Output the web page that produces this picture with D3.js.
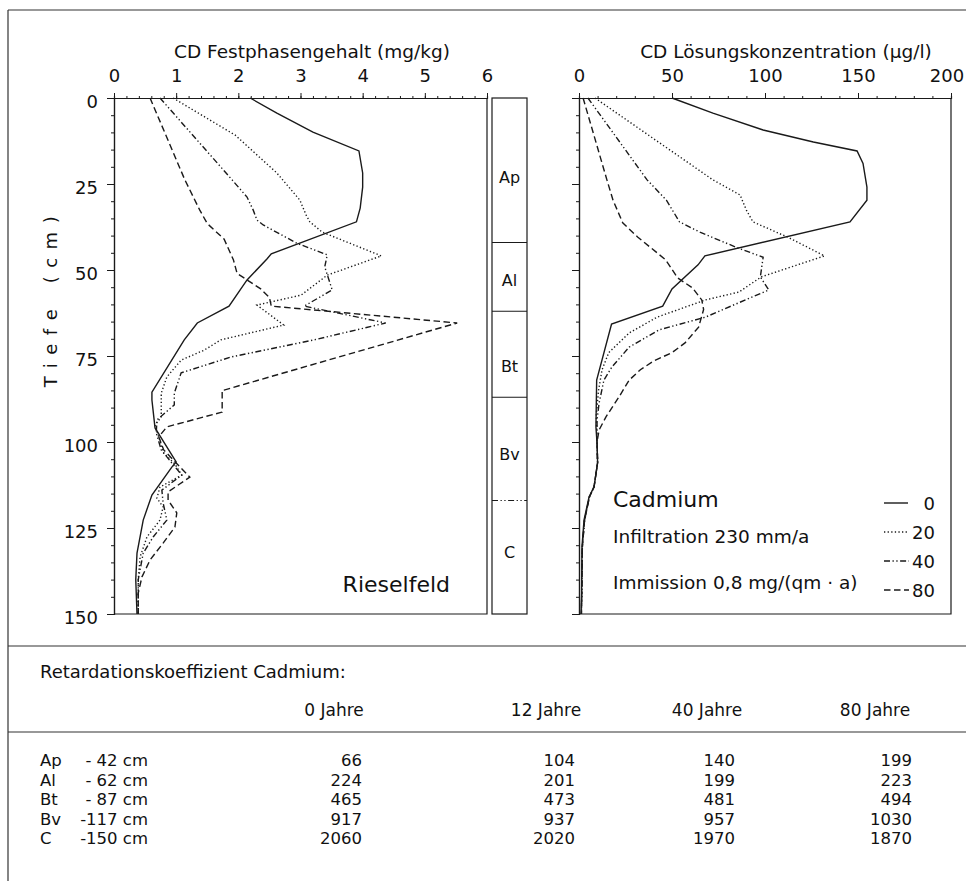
<!DOCTYPE html>
<html lang="de">
<head>
	<meta charset="utf-8">
	<title>Cadmium Tiefenprofil</title>
	<script src="https://d3js.org/d3.v7.min.js"></script>
	<style>
		body { margin: 0; background: #fff; }
		text { font-family: "DejaVu Sans", "Open Sans", sans-serif; fill: #111; }
	</style>
</head>
<body>
<div id="chart"></div>
<script>
// Festphasengehalt (mg/kg) : [Tiefe cm, Wert]
const fest0 = [[0,2.19],[4.4,2.62],[9.9,3.2],[15.4,3.94],[21.8,4.0],[25.9,4.0],[32,3.96],[36,3.9],[45.3,2.53],[46.8,2.46],[52.9,2.14],[60.5,1.85],[65.4,1.34],[70.3,1.13],[85.5,0.61],[87.8,0.61],[95.9,0.66],[105.8,1.0],[107.3,0.93],[115.4,0.61],[122.7,0.47],[132.3,0.37],[140,0.35],[150,0.37]];
const fest20 = [[0,0.95],[10.8,1.95],[21.8,2.62],[29.7,2.99],[34,3.09],[36,3.15],[39,3.35],[45.9,4.3],[51.5,3.43],[57.3,3.01],[60.2,2.3],[66,2.73],[70.3,1.72],[73.3,1.45],[76.2,1.08],[81.1,0.85],[85.8,0.76],[92.7,0.76],[95.1,0.66],[103.2,0.8],[106.4,0.98],[109.6,1.09],[113.1,0.74],[116.3,0.69],[118.9,0.79],[122.7,0.74],[127.6,0.53],[133.4,0.42],[140,0.39],[150,0.39]];
const fest40 = [[0,0.74],[23.8,1.9],[28.8,2.14],[32.6,2.24],[35.5,2.3],[36.9,2.4],[42.2,2.94],[45.6,3.43],[49.1,3.39],[55.8,3.51],[60.5,3.06],[65.4,4.37],[70.3,3.22],[75.3,1.88],[79.9,1.08],[85.8,0.97],[89.2,0.97],[93.6,0.69],[97.4,0.68],[102.3,0.76],[106.1,0.93],[109.6,1.09],[114,0.77],[117.7,0.79],[122.7,0.85],[127.6,0.63],[132.3,0.47],[140,0.39],[150,0.39]];
const fest80 = [[0,0.58],[23.8,1.14],[32.6,1.38],[36.5,1.5],[41,1.77],[47,1.92],[51,1.98],[53,2.15],[55.5,2.36],[58,2.5],[60.5,2.53],[65.4,5.52],[84.9,1.77],[84.9,1.74],[91.3,1.74],[95.6,0.85],[98.5,0.72],[102.3,0.8],[106.1,1.0],[110.2,1.22],[114.5,0.87],[116.9,0.87],[120.6,1.01],[124.7,0.98],[129.4,0.79],[134.3,0.58],[139.2,0.45],[143.9,0.39],[150,0.39]];

// Loesungskonzentration (ug/l) : [Tiefe cm, Wert]
const loes0 = [[0,50],[4.4,72],[9.3,99],[12.8,126],[15.4,149.5],[19,152.7],[25.9,154.8],[29.7,154.8],[36,145.7],[45.9,67.7],[48.5,64],[55.5,50],[60.5,45],[65.7,17.5],[82,9.5],[95.6,9.1],[100.3,9.7],[106,10],[113,8.1],[116,5.4],[122.7,2.7],[130.5,1.6],[144,1.4],[150,1.1]];
const loes20 = [[0,8.6],[23.8,72],[28.2,86.6],[32.6,90],[36,93.5],[40.4,112],[45.9,132],[52,98],[56.4,86],[58.7,68],[63.7,42],[68.3,27],[74,16],[79,12.4],[85,10.5],[92,9.3],[100,9.7],[106,10],[113,8.1],[116,5.6],[122.7,3],[130.5,1.8],[144,1.5],[150,1.3]];
const loes40 = [[0,4.8],[23.8,36.6],[29.7,47],[36,54],[39,65],[43.5,85],[46.3,99],[52,97.5],[55.8,102],[59.5,86],[63.7,68],[67.4,43],[72.4,27],[78.2,17.7],[82,13.4],[88.7,10.8],[93.6,9.7],[100,9.7],[106,10],[113,8.1],[116,5.6],[122.7,3],[130.5,1.8],[144,1.5],[150,1.3]];
const loes80 = [[0,2.2],[23.8,15],[29.7,18.3],[36.3,23.5],[40.4,31.5],[47,46.5],[49,49],[52.3,53],[55.2,61],[58.7,66],[61.5,67],[66.6,64.3],[71.2,57],[74,50],[76.5,40],[79,33],[82,27],[86.9,21.5],[92.7,14.5],[96.5,10.8],[100,9.7],[106,10],[113,8.1],[116,5.6],[122.7,3],[130.5,1.8],[144,1.5],[150,1.3]];

const legendYears = ["0", "20", "40", "80"];

// Bodenhorizonte
const horizonNames = ["Ap", "Al", "Bt", "Bv", "C"];
const horizonBottoms = [42, 62, 87, 117, 150];
const horizonLabelDepth = [23, 53, 78, 103.5, 132];

// Retardationskoeffizient Tabelle
const tableYears = ["0 Jahre", "12 Jahre", "40 Jahre", "80 Jahre"];
const tableRowDepth = ["- 42 cm", "- 62 cm", "- 87 cm", "-117 cm", "-150 cm"];
const ret0 = [66, 224, 465, 917, 2060];
const ret12 = [104, 201, 473, 937, 2020];
const ret40 = [140, 199, 481, 957, 1970];
const ret80 = [199, 223, 494, 1030, 1870];

const festTicks = [0, 1, 2, 3, 4, 5, 6];
const loesTicks = [0, 50, 100, 150, 200];
const depthTicks = [0, 25, 50, 75, 100, 125, 150];

// ------------------------------------------------------------
let width = 966, height = 881;
let svg = d3.select("#chart").append("svg")
	.attr("width", width).attr("height", height);

let yDepth = d3.scaleLinear().domain([0, 150]).range([98, 614]);
let xFest = d3.scaleLinear().domain([0, 6]).range([114, 487]);
let xLoes = d3.scaleLinear().domain([0, 200]).range([579, 951]);

const dashes = [null, "1.3,2.3", "6,2.5,1.3,2.5,1.3,2.5", "6.5,3.5"];
const ink = "#1a1a1a";
const font = "'DejaVu Sans', sans-serif";

// outer frame lines
svg.append("g").attr("stroke", "#333").attr("stroke-width", 1.2).selectAll("line")
	.data([[8,10,966,10],[8,10,8,881],[8,646,966,646],[8,732,966,732]])
	.enter().append("line")
	.attr("x1", d => d[0]).attr("y1", d => d[1]).attr("x2", d => d[2]).attr("y2", d => d[3]);

function styleAxis(g) {
	g.selectAll("path").attr("stroke", ink).attr("stroke-width", 1.2);
	g.selectAll("line").attr("stroke", ink);
	g.selectAll("text").style("font-size", "18px").attr("fill", "#111")
		.style("font-family", font);
}

function drawPanel(x, ticks, minorStep, title, titleX, series, showDepthLabels) {
	let x0 = x.range()[0], x1 = x.range()[1];
	// frame
	svg.append("path")
		.attr("d", `M${x1},${yDepth(0)}V${yDepth(150)}H${x0}`)
		.attr("fill", "none").attr("stroke", ink).attr("stroke-width", 1.2);
	// top axis minor + major
	let dom = x.domain();
	svg.append("g").attr("transform", `translate(0,${yDepth(0)})`)
		.call(d3.axisTop(x).tickValues(d3.range(dom[0], dom[1] + 1e-6, minorStep)).tickSize(2).tickFormat(""))
		.call(styleAxis);
	svg.append("g").attr("transform", `translate(0,${yDepth(0)})`)
		.call(d3.axisTop(x).tickValues(ticks).tickSizeInner(5).tickSizeOuter(0).tickPadding(11)
			.tickFormat(d3.format("d")))
		.call(styleAxis);
	// left axis
	svg.append("g").attr("transform", `translate(${x0},0)`)
		.call(d3.axisLeft(yDepth).tickValues(d3.range(0, 151, 5)).tickSize(3).tickFormat(""))
		.call(styleAxis);
	svg.append("g").attr("transform", `translate(${x0},0)`)
		.call(d3.axisLeft(yDepth).tickValues(depthTicks).tickSizeInner(7).tickSizeOuter(0)
			.tickFormat(showDepthLabels ? d3.format("d") : ""))
		.call(styleAxis)
		.selectAll("text").attr("dy", "0.55em").attr("x", -16);
	// title
	svg.append("text").attr("x", titleX).attr("y", 58)
		.attr("text-anchor", "middle").style("font-size", "18.5px").text(title);
	// curves
	let line = d3.line().x(d => x(d[1])).y(d => yDepth(d[0]));
	series.forEach((s, i) => {
		svg.append("path").datum(s)
			.attr("d", line)
			.attr("fill", "none")
			.attr("stroke", ink)
			.attr("stroke-width", 1.4)
			.attr("stroke-dasharray", dashes[i]);
	});
}

drawPanel(xFest, festTicks, 0.2, "CD Festphasengehalt (mg/kg)", 312, [fest0, fest20, fest40, fest80], true);
drawPanel(xLoes, loesTicks, 10, "CD L\u00f6sungskonzentration (\u00b5g/l)", 786, [loes0, loes20, loes40, loes80], false);

// last tick label of the right panel sits slightly left
svg.selectAll("g.tick text").filter(function() { return this.textContent === "200"; })
	.attr("text-anchor", "end").attr("dx", "0.7em");

// y axis title
svg.append("text")
	.attr("transform", `translate(57,${yDepth(58)}) rotate(-90)`)
	.attr("text-anchor", "middle")
	.style("font-size", "18px")
	.style("letter-spacing", "8.5px")
	.text("Tiefe\u2002(cm)");

// horizon column
let colX0 = 492, colX1 = 527;
svg.append("rect")
	.attr("x", colX0).attr("y", yDepth(0))
	.attr("width", colX1 - colX0).attr("height", yDepth(150) - yDepth(0))
	.attr("fill", "none").attr("stroke", ink).attr("stroke-width", 1.2);
svg.selectAll("line.hz")
	.data(horizonBottoms.slice(0, -1))
	.enter().append("line")
	.attr("class", "hz")
	.attr("x1", colX0).attr("x2", colX1)
	.attr("y1", d => yDepth(d)).attr("y2", d => yDepth(d))
	.attr("stroke", ink).attr("stroke-width", 1.1)
	.attr("stroke-dasharray", (d, i) => i === 3 ? "6,2.5,1.3,2.5,1.3,2.5" : null);
svg.selectAll("text.hz")
	.data(horizonNames)
	.enter().append("text")
	.attr("class", "hz")
	.attr("x", (colX0 + colX1) / 2)
	.attr("y", (d, i) => yDepth(horizonLabelDepth[i]))
	.attr("dy", "0.35em")
	.attr("text-anchor", "middle")
	.style("font-size", "16px")
	.text(d => d);

// panel annotations
svg.append("text").attr("x", 450).attr("y", 592)
	.attr("text-anchor", "end").style("font-size", "22px").text("Rieselfeld");
svg.append("text").attr("x", 613).attr("y", 507)
	.style("font-size", "22px").text("Cadmium");
svg.append("text").attr("x", 613).attr("y", 543)
	.style("font-size", "18.5px").text("Infiltration 230 mm/a");
svg.append("text").attr("x", 613).attr("y", 589)
	.style("font-size", "18.5px").text("Immission 0,8 mg/(qm \u00b7 a)");

// legend
let legendY = [503, 532, 561, 590];
let legend = svg.selectAll("g.legend")
	.data(legendYears)
	.enter().append("g")
	.attr("class", "legend")
	.attr("transform", (d, i) => `translate(0,${legendY[i]})`);
legend.append("line")
	.attr("x1", 884).attr("x2", (d, i) => i === 0 ? 908 : 909)
	.attr("stroke", ink).attr("stroke-width", 1.4)
	.attr("stroke-dasharray", (d, i) => dashes[i]);
legend.append("text")
	.attr("x", 935).attr("y", 7)
	.attr("text-anchor", "end")
	.style("font-size", "18px")
	.text(d => d);

// table
svg.append("text").attr("x", 40).attr("y", 678)
	.style("font-size", "18px").text("Retardationskoeffizient Cadmium:");
let colRight = [362, 575, 735, 912];
let headX = [334, 546, 707, 875];
svg.selectAll("text.head")
	.data(tableYears)
	.enter().append("text")
	.attr("class", "head")
	.attr("x", (d, i) => headX[i]).attr("y", 716)
	.attr("text-anchor", "middle")
	.style("font-size", "17px")
	.text(d => d);
let rowY = d3.scalePoint().domain(horizonNames).range([766, 844]);
let rows = svg.selectAll("g.row")
	.data(horizonNames)
	.enter().append("g")
	.attr("class", "row")
	.attr("transform", d => `translate(0,${rowY(d)})`);
rows.append("text").attr("x", 40).style("font-size", "16.5px").text(d => d);
rows.append("text").attr("x", 148).attr("text-anchor", "end")
	.style("font-size", "16.5px").text((d, i) => tableRowDepth[i]);
[ret0, ret12, ret40, ret80].forEach((col, c) => {
	rows.append("text")
		.attr("x", colRight[c]).attr("text-anchor", "end")
		.style("font-size", "16.5px")
		.text((d, i) => col[i]);
});
</script>
</body>
</html>
